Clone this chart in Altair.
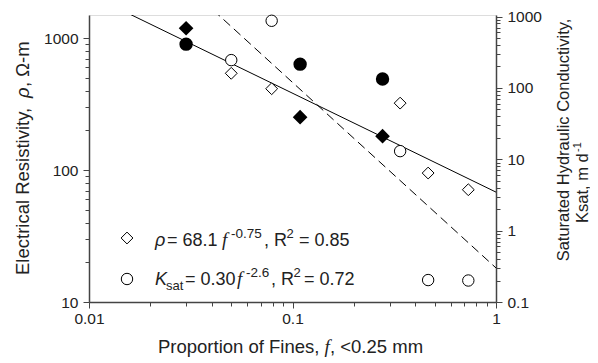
import altair as alt
import pandas as pd

# ---------------- data ----------------
f_filled = [0.030, 0.109, 0.277]
rho_filled = [1190, 252, 181]
ksat_filled = [410, 215, 133]

f_open = [0.050, 0.079, 0.338, 0.464, 0.731]
rho_open = [542, 414, 322, 95, 71]
ksat_open = [245, 871, 13.0, 0.203, 0.200]

# power-law fit lines (straight on log-log), end points
fit_f = [0.01, 1.0]
rho_fit = [2153, 68.1]
ksat_fit = [47500, 0.30]

x_ticks = [0.01, 0.02, 0.03, 0.04, 0.05, 0.06, 0.07, 0.08, 0.09,
           0.1, 0.2, 0.3, 0.4, 0.5, 0.6, 0.7, 0.8, 0.9, 1]
left_ticks = [10, 20, 30, 40, 50, 60, 70, 80, 90,
              100, 200, 300, 400, 500, 600, 700, 800, 900, 1000]
right_ticks = [0.1, 0.2, 0.3, 0.4, 0.5, 0.6, 0.7, 0.8, 0.9,
               1, 2, 3, 4, 5, 6, 7, 8, 9,
               10, 20, 30, 40, 50, 60, 70, 80, 90,
               100, 200, 300, 400, 500, 600, 700, 800, 900, 1000]

W, H = 407, 287
AX = "#444444"
FONT = "Liberation Sans"

df_filled = pd.DataFrame({"f": f_filled, "rho": rho_filled, "ksat": ksat_filled})
df_open = pd.DataFrame({"f": f_open, "rho": rho_open, "ksat": ksat_open})
df_fit = pd.DataFrame({"f": fit_f, "rho": rho_fit, "ksat": ksat_fit})

xs = alt.Scale(type="log", domain=[0.01, 1])
ys_l = alt.Scale(type="log", domain=[10, 1500])
ys_r = alt.Scale(type="log", domain=[0.1, 1050])


def tick_size(major):
    test = "indexof([" + ",".join(str(v) for v in major) + "], datum.value) >= 0"
    return {"condition": {"test": test, "value": 6}, "value": 4}


xaxis = alt.Axis(values=x_ticks, title=None, grid=False,
                 labelExpr="datum.value == 0.01 ? '0.01' : datum.value == 0.1 ? '0.1' : datum.value == 1 ? '1' : ''",
                 tickSize=tick_size([0.01, 0.1, 1]), labelFontSize=15.5, labelPadding=3,
                 labelColor="#222", domainColor=AX, tickColor=AX, domainWidth=1.5,
                 labelFont=FONT, labelFlush=False, labelOverlap=False)
yaxis_l = alt.Axis(values=left_ticks, title=None, grid=False, orient="left",
                   labelExpr="datum.value == 10 ? '10' : datum.value == 100 ? '100' : datum.value == 1000 ? '1000' : ''",
                   tickSize=tick_size([10, 100, 1000]), labelFontSize=15.5, labelPadding=5,
                   labelColor="#222", domainColor=AX, tickColor=AX, domainWidth=1.5,
                   labelFont=FONT, labelFlush=False, labelOverlap=False)
yaxis_r = alt.Axis(values=right_ticks, title=None, grid=False, orient="right",
                   labelExpr="datum.value == 0.1 ? '0.1' : datum.value == 1 ? '1' : datum.value == 10 ? '10' : datum.value == 100 ? '100' : datum.value == 1000 ? '1000' : ''",
                   tickSize=tick_size([0.1, 1, 10, 100, 1000]), labelFontSize=15.5, labelPadding=5,
                   labelColor="#222", domainColor=AX, tickColor=AX, domainWidth=1.5,
                   labelFont=FONT, labelFlush=False, labelOverlap=False)

X = alt.X("f:Q", scale=xs, axis=xaxis)

# ---------- resistivity (left axis) ----------
rho_line = alt.Chart(df_fit).mark_line(color="black", strokeWidth=1, clip=True).encode(
    x=X, y=alt.Y("rho:Q", scale=ys_l, axis=yaxis_l))
rho_f = alt.Chart(df_filled).mark_point(shape="diamond", filled=True, fill="black", stroke="black",
                                        size=140, opacity=1).encode(
    x=X, y=alt.Y("rho:Q", scale=ys_l, axis=yaxis_l))
rho_o = alt.Chart(df_open).mark_point(shape="diamond", filled=True, fill="white", stroke="black",
                                      strokeWidth=1, size=140, opacity=1).encode(
    x=X, y=alt.Y("rho:Q", scale=ys_l, axis=yaxis_l))
left = alt.layer(rho_line, rho_o, rho_f)

# ---------- Ksat (right axis) ----------
k_line = alt.Chart(df_fit).mark_line(color="black", strokeWidth=1, strokeDash=[9, 5], clip=True).encode(
    x=X, y=alt.Y("ksat:Q", scale=ys_r, axis=yaxis_r))
k_f = alt.Chart(df_filled).mark_point(shape="circle", filled=True, fill="black", stroke="black",
                                      size=130, opacity=1).encode(
    x=X, y=alt.Y("ksat:Q", scale=ys_r, axis=yaxis_r))
k_o = alt.Chart(df_open).mark_point(shape="circle", filled=True, fill="white", stroke="black",
                                    strokeWidth=1, size=130, opacity=1).encode(
    x=X, y=alt.Y("ksat:Q", scale=ys_r, axis=yaxis_r))
right = alt.layer(k_line, k_o, k_f)

# ---------- texts (titles and legend) ----------
one = pd.DataFrame({"a": [0]})


def seg(x, y, text, size=18, style="normal", font=FONT, angle=0, align="left"):
    return alt.Chart(one).mark_text(
        text=text, fontSize=size, fontStyle=style, font=font, angle=angle,
        align=align, baseline="alphabetic", color="#222").encode(
        x=alt.value(x), y=alt.value(y))


texts = []
# x title
texts += [seg(69, 338, "Proportion of Fines, ", size=18.5),
          seg(235.5, 338, "f", style="italic", font="Liberation Serif", size=19),
          seg(241, 338, ", <0.25 mm", size=18.5)]
# left title (rotated)
texts += [seg(-60, 260, "Electrical Resistivity, ", size=18.5, angle=270),
          seg(-60, 83, "ρ", style="italic", size=18.5, angle=270),
          seg(-60, 72, ", Ω-m", size=18.5, angle=270)]
# right title (rotated)
texts += [seg(480, 125, "Saturated Hydraulic Conductivity,", size=16.5, angle=270, align="center"),
          seg(499, 208, "Ksat, m d", size=16.5, angle=270),
          seg(492, 137, "-1", size=11, angle=270)]
# legend line 1
y1, s1 = 230.5, 222.5
texts += [seg(66, y1, "ρ", style="italic"),
          seg(78, y1, "= 68.1"),
          seg(133, y1, "f", style="italic", font="Liberation Serif", size=19),
          seg(142, s1, "-0.75", size=13.5),
          seg(175, y1, ", R"),
          seg(197.5, s1, "2", size=13),
          seg(210, y1, "= 0.85")]
# legend line 2
y2, s2, b2 = 270, 262, 275
texts += [seg(66, y2, "K", style="italic"),
          seg(77, b2, "sat", size=13),
          seg(96, y2, "= 0.30"),
          seg(148, y2, "f", style="italic", font="Liberation Serif", size=19),
          seg(157, s2, "-2.6", size=13.5),
          seg(182, y2, ", R"),
          seg(204.5, s2, "2", size=13),
          seg(215, y2, "= 0.72")]

leg_d = alt.Chart(one).mark_point(shape="diamond", filled=True, fill="white", stroke="black",
                                  strokeWidth=1, size=140, opacity=1).encode(
    x=alt.value(38), y=alt.value(223))
leg_c = alt.Chart(one).mark_point(shape="circle", filled=True, fill="white", stroke="black",
                                  strokeWidth=1, size=130, opacity=1).encode(
    x=alt.value(38), y=alt.value(264))

chart = alt.layer(left, right, leg_d, leg_c, *texts).resolve_scale(y="independent").properties(
    width=W, height=H,
    autosize=alt.AutoSizeParams(type="none"),
    padding={"left": 81, "top": 7, "right": 94, "bottom": 56},
).configure_view(stroke="#999999", strokeWidth=2).configure(font=FONT)

chart.save("out.html", embed_options={"renderer": "svg", "actions": False})
